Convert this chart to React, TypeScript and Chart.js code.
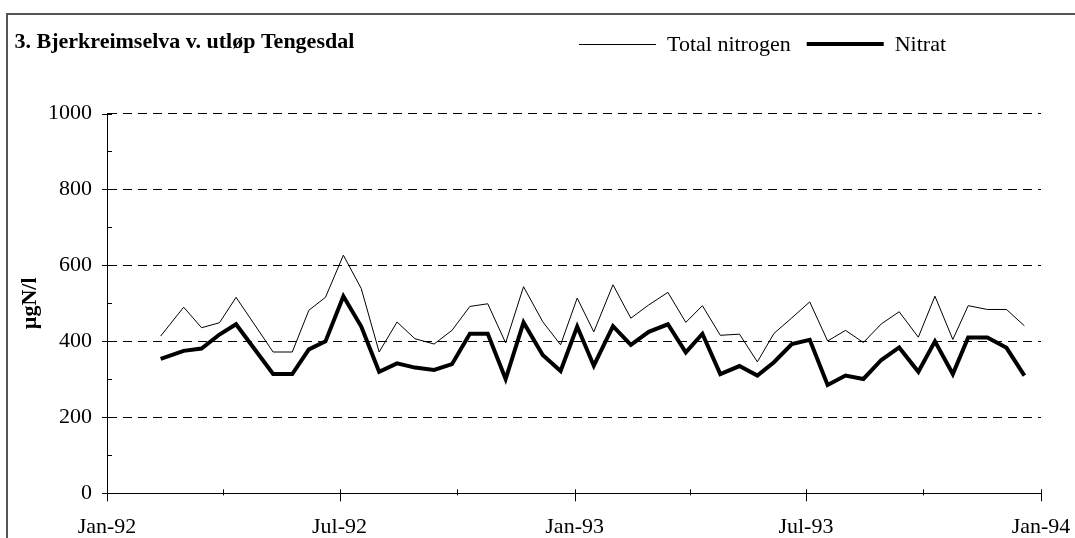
import React, { useEffect, useRef } from 'react';
import { Chart, registerables } from 'chart.js';

Chart.register(...registerables);

const TITLE = '3. Bjerkreimselva v. utløp Tengesdal';
const Y_LABEL = 'µgN/l';
const SERIES_LABELS = ['Total nitrogen', 'Nitrat'];

const SAMPLE_DATES = [
  '1992-02-12', '1992-03-01', '1992-03-15', '1992-03-29', '1992-04-11', '1992-05-10',
  '1992-05-25', '1992-06-07', '1992-06-20', '1992-07-04', '1992-07-18', '1992-08-01',
  '1992-08-15', '1992-08-29', '1992-09-13', '1992-09-27', '1992-10-11', '1992-10-25',
  '1992-11-08', '1992-11-22', '1992-12-07', '1992-12-21',
  '1993-01-03', '1993-01-16', '1993-01-31', '1993-02-14', '1993-02-28', '1993-03-15',
  '1993-03-29', '1993-04-11', '1993-04-25', '1993-05-10', '1993-05-24', '1993-06-06',
  '1993-06-20', '1993-07-04', '1993-07-18', '1993-08-01', '1993-08-15', '1993-08-29',
  '1993-09-12', '1993-09-27', '1993-10-10', '1993-10-24', '1993-11-05', '1993-11-20',
  '1993-12-05', '1993-12-19',
];

const TOTAL_NITROGEN = [
  414, 490, 436, 449, 516, 372, 372, 482, 516, 627, 539, 372, 451, 407, 393, 429, 492, 499,
  396, 544, 452, 391,
  514, 425, 549, 461, 496, 529, 450, 494, 416, 419, 346, 421, 462, 504, 401, 429, 397, 446,
  478, 411, 519, 405, 494, 484, 484, 441,
];

const NITRAT = [
  354, 375, 381, 418, 445, 314, 314, 379, 400, 519, 439, 320, 342, 331, 325, 340, 420, 420,
  301, 450, 364, 322,
  439, 336, 440, 391, 425, 445, 371, 420, 314, 335, 310, 345, 393, 404, 285, 310, 301, 351,
  384, 320, 400, 314, 410, 410, 383, 310,
];

const X_START_DATE = '1992-01-01';
const X_END_DATE = '1994-01-01';
const X_MAJOR_TICK_DATES = ['1992-01-01', '1992-07-01', '1993-01-01', '1993-07-01', '1994-01-01'];
const X_MAJOR_TICK_LABELS = ['Jan-92', 'Jul-92', 'Jan-93', 'Jul-93', 'Jan-94'];
const X_MINOR_TICK_DATES = ['1992-04-01', '1992-10-01', '1993-04-01', '1993-10-01'];

const Y_MIN = 0;
const Y_MAX = 1000;
const Y_STEP = 200;
const Y_MINOR_STEP = 100;

const FONT_FAMILY = '"Liberation Serif", "Times New Roman", Times, serif';
const FONT_SIZE = 22;

function dayOf(s: string): number {
  const [y, m, d] = s.split('-').map(Number);
  const [y0, m0, d0] = X_START_DATE.split('-').map(Number);
  return (Date.UTC(y, m - 1, d) - Date.UTC(y0, m0 - 1, d0)) / 86400000;
}

const decorPlugin = {
  id: 'decor',
  afterDraw(chart: any) {
    const ctx = chart.ctx as CanvasRenderingContext2D;
    const area = chart.chartArea;
    const xs = chart.scales.x;
    const ys = chart.scales.y;
    ctx.save();

    // outer frame
    ctx.strokeStyle = '#555';
    ctx.lineWidth = 2;
    ctx.strokeRect(7, 14, 1200, 800);

    // title
    ctx.fillStyle = '#000';
    ctx.font = `bold ${FONT_SIZE}px ${FONT_FAMILY}`;
    ctx.textAlign = 'left';
    ctx.textBaseline = 'alphabetic';
    ctx.fillText(TITLE, 14.5, 48);

    // legend
    ctx.font = `${FONT_SIZE}px ${FONT_FAMILY}`;
    let lx = 579;
    chart.data.datasets.forEach((ds: any) => {
      const ly = ds.borderWidth % 2 === 1 ? 44.5 : 44;
      ctx.beginPath();
      ctx.lineCap = 'butt';
      ctx.strokeStyle = ds.borderColor;
      ctx.lineWidth = ds.borderWidth;
      ctx.moveTo(lx, ly);
      ctx.lineTo(lx + 77, ly);
      ctx.stroke();
      ctx.fillStyle = '#000';
      ctx.fillText(ds.label, lx + 88, 51);
      lx = lx + 88 + ctx.measureText(ds.label).width + 16;
    });

    // tick marks
    ctx.strokeStyle = '#000';
    ctx.lineWidth = 1;
    ctx.beginPath();
    for (let v = Y_MIN; v <= Y_MAX; v += Y_MINOR_STEP) {
      const py = Math.round(ys.getPixelForValue(v)) + 0.5;
      const major = (v - Y_MIN) % Y_STEP === 0;
      ctx.moveTo(area.left - (major ? 5 : 0), py);
      ctx.lineTo(area.left + 5, py);
    }
    X_MAJOR_TICK_DATES.forEach((d) => {
      const px = Math.round(xs.getPixelForValue(dayOf(d))) + 0.5;
      ctx.moveTo(px, area.bottom - 4);
      ctx.lineTo(px, area.bottom + 8);
    });
    X_MINOR_TICK_DATES.forEach((d) => {
      const px = Math.round(xs.getPixelForValue(dayOf(d))) + 0.5;
      ctx.moveTo(px, area.bottom - 4);
      ctx.lineTo(px, area.bottom + 2);
    });
    ctx.stroke();
    ctx.restore();
  },
};

export default function App() {
  const ref = useRef<HTMLCanvasElement>(null);

  useEffect(() => {
    const canvas = ref.current;
    if (!canvas) return;
    const majorDays = X_MAJOR_TICK_DATES.map(dayOf);
    const chart = new Chart(canvas, {
      type: 'line',
      data: {
        datasets: [
          {
            label: SERIES_LABELS[0],
            data: SAMPLE_DATES.map((d, i) => ({ x: dayOf(d), y: TOTAL_NITROGEN[i] })),
            borderColor: '#000',
            backgroundColor: '#000',
            borderWidth: 1,
            pointRadius: 0,
            tension: 0,
          },
          {
            label: SERIES_LABELS[1],
            data: SAMPLE_DATES.map((d, i) => ({ x: dayOf(d), y: NITRAT[i] })),
            borderColor: '#000',
            backgroundColor: '#000',
            borderWidth: 4,
            pointRadius: 0,
            tension: 0,
          },
        ],
      },
      options: {
        animation: false,
        responsive: false,
        maintainAspectRatio: false,
        layout: { padding: { left: 0, top: 113.5, right: 34, bottom: 0 } },
        plugins: {
          legend: { display: false },
          title: { display: false },
          tooltip: { enabled: false },
        },
        scales: {
          x: {
            type: 'linear',
            min: dayOf(X_START_DATE),
            max: dayOf(X_END_DATE),
            grid: { display: false },
            border: { display: true, color: '#000', width: 1 },
            afterBuildTicks: (scale: any) => {
              scale.ticks = majorDays.map((v) => ({ value: v }));
            },
            ticks: {
              autoSkip: false,
              maxRotation: 0,
              minRotation: 0,
              padding: 13,
              color: '#000',
              font: { family: FONT_FAMILY, size: FONT_SIZE },
              callback: (value: any) => {
                const idx = majorDays.indexOf(Number(value));
                return idx >= 0 ? X_MAJOR_TICK_LABELS[idx] : '';
              },
            },
            afterFit: (scale: any) => {
              scale.height = 44.7;
              scale.paddingLeft = 0;
              scale.paddingRight = 0;
            },
          },
          y: {
            type: 'linear',
            min: Y_MIN,
            max: Y_MAX,
            ticks: {
              stepSize: Y_STEP,
              padding: 15,
              color: '#000',
              font: { family: FONT_FAMILY, size: FONT_SIZE },
              callback: (value: any) => String(value),
            },
            grid: {
              drawTicks: false,
              lineWidth: 1,
              color: (c: any) => (c.tick && c.tick.value === Y_MIN ? 'rgba(0,0,0,0)' : '#000'),
            },
            border: { display: true, color: '#000', width: 1, dash: [9, 6] },
            title: {
              display: true,
              text: Y_LABEL,
              color: '#000',
              font: { family: FONT_FAMILY, size: FONT_SIZE, weight: 'bold' },
              padding: { top: 17, bottom: 0 },
            },
            afterFit: (scale: any) => {
              scale.width = 107;
              scale.paddingTop = 0;
              scale.paddingBottom = 0;
            },
          },
        },
      },
      plugins: [decorPlugin],
    } as any);
    return () => chart.destroy();
  }, []);

  return (
    <div style={{ position: 'fixed', left: 0, top: 0, width: 1075, height: 538, background: '#fff' }}>
      <canvas ref={ref} width={1075} height={538} style={{ display: 'block' }} />
    </div>
  );
}
